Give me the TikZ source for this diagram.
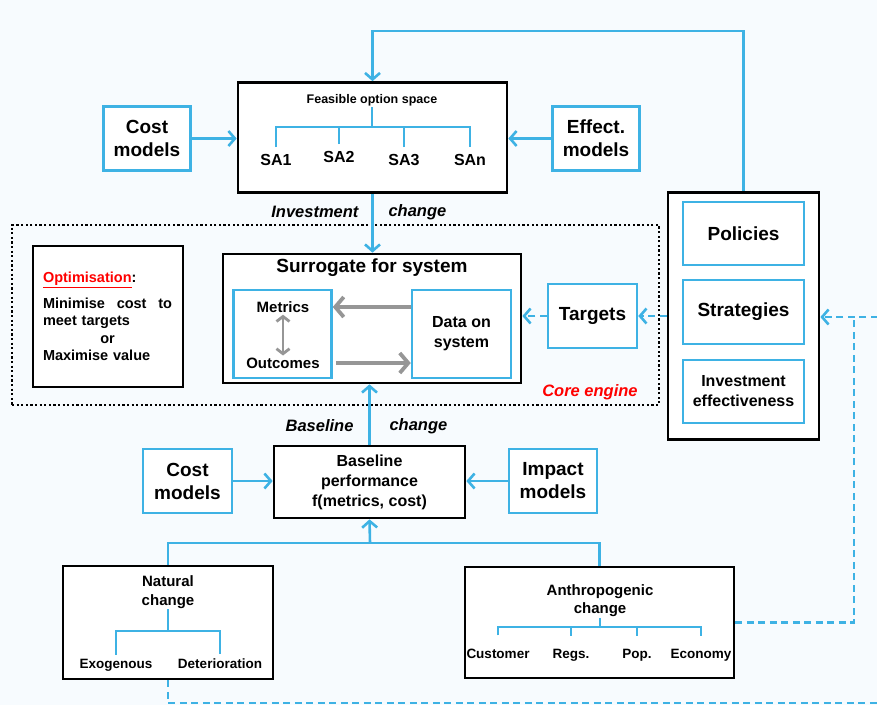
\documentclass[tikz,border=0pt]{standalone}
\usepackage{fontspec}
\setmainfont{Liberation Sans}
\usetikzlibrary{arrows, arrows.meta}

\definecolor{skyline}{RGB}{62,178,228}
\definecolor{paleblue}{RGB}{247,251,254}
\definecolor{greyline}{RGB}{150,150,150}

\begin{document}
\begin{tikzpicture}[x = 1pt, y = -1pt, >={Straight Barb[length = 6.5pt, width = 15pt]},
    frame/.style = {draw = black, line width = 2.7pt, fill = white, inner sep = 0pt, align = center},
    bluebox/.style = {draw = skyline, line width = 2.5pt, fill = white, inner sep = 0pt, align = center},
    flow/.style = {draw = skyline, line width = 2.6pt},
    dashflow/.style = {draw = skyline, line width = 2.6pt, dash pattern = on 7pt off 4.5pt},
    greyflow/.style = {draw = greyline, line width = 3.8pt, >={Straight Barb[length = 8.5pt, width = 20pt]}},
    bigtext/.style = {font = \fontsize{19}{23}\selectfont\bfseries},
    midtext/.style = {font = \fontsize{16}{20}\selectfont\bfseries},
    smalltext/.style = {font = \fontsize{14.5}{17.5}\selectfont\bfseries},
    headtext/.style = {font = \fontsize{15}{18.5}\selectfont\bfseries, align = center, inner sep = 1pt},
    leaftext/.style = {font = \fontsize{13.5}{16}\selectfont\bfseries},
    slanttext/.style = {font = \fontsize{16.5}{20}\selectfont\bfseries\itshape},
    leaf/.style = {anchor = base, inner xsep = 0pt, inner ysep = #1}]

  \useasboundingbox (0,0) rectangle (877,705);
  \clip (0,0) rectangle (877,705);
  \fill[paleblue] (0,0) rectangle (877,705);

  % feasible option space and its models
  \node[frame, minimum width = 269pt, minimum height = 110pt] (feas) at (372.5,137.5) {};
  \node[font = \fontsize{12.5}{15}\selectfont\bfseries, inner sep = 1pt] (fos) at (372,100) {Feasible option space};
  \node[font = \fontsize{16}{19}\selectfont\bfseries, leaf = 7pt] (sa1) at (276,165.5) {SA1};
  \node[font = \fontsize{16}{19}\selectfont\bfseries, leaf = 7pt] (sa2) at (339,162.5) {SA2};
  \node[font = \fontsize{16}{19}\selectfont\bfseries, leaf = 7pt] (sa3) at (404,165.5) {SA3};
  \node[font = \fontsize{16}{19}\selectfont\bfseries, leaf = 7pt] (san) at (470,165.5) {SAn};
  \coordinate (fosfork) at (372,127);
  \draw[flow] (fos.south) -- (fosfork);
  \draw[flow] (sa1.north) |- (fosfork) -| (san.north);
  \draw[flow] (sa2.north) -- (sa2.north |- fosfork);
  \draw[flow] (sa3.north) -- (sa3.north |- fosfork);

  \node[bluebox, bigtext, minimum width = 87pt, minimum height = 64pt] (costA) at (147,138.5) {Cost\\models};
  \node[bluebox, bigtext, minimum width = 87pt, minimum height = 64pt] (effect) at (596,138.5) {Effect.\\models};
  \draw[flow, ->] (costA.east) -- (costA.east -| feas.west);
  \draw[flow, ->] (effect.west) -- (effect.west -| feas.east);

  % core engine
  \node[draw, line width = 2.2pt, dash pattern = on 2.2pt off 2.4pt, minimum width = 647pt, minimum height = 180pt, inner sep = 0pt] (core) at (335.5,315) {};
  \node[font = \fontsize{16.5}{20}\selectfont\bfseries\itshape, text = red] (corelabel) at (590,392) {Core engine};

  \node[frame, minimum width = 150pt, minimum height = 141pt] (opt) at (108,316.5) {};
  \node[smalltext, text width = 129pt, align = left, inner sep = 0pt] (opttext) at (107.5,316.5)
    {\textcolor{red}{\underline{Optimisation}}:\\[8pt]
     Minimise\hfill cost\hfill to\\
     meet targets\\
     \makebox[129pt]{or}\\
     Maximise value};

  \node[frame, minimum width = 298pt, minimum height = 129pt] (sur) at (372,318.5) {};
  \node[bigtext, inner sep = 1pt] (surtitle) at (372,268) {Surrogate for system};
  \node[bluebox, minimum width = 98pt, minimum height = 88pt] (mo) at (282.5,334) {};
  \node[font = \fontsize{15}{18}\selectfont\bfseries, inner sep = 2pt] (metrics) at (283,307) {Metrics};
  \node[font = \fontsize{15}{18}\selectfont\bfseries, inner sep = 2pt] (outcomes) at (283,363) {Outcomes};
  \node[bluebox, midtext, minimum width = 99pt, minimum height = 88pt] (data) at (461.5,334) {Data on\\system};
  \draw[greyflow, ->] (data.west |- metrics) -- (mo.east |- metrics);
  \draw[greyflow, ->] ([xshift = 3pt]mo.east |- outcomes) -- (data.west |- outcomes);
  \draw[greyflow, line width = 2.8pt, >={Straight Barb[length = 5pt, width = 13pt]}, <->] (metrics.south) -- (outcomes.north);

  \node[slanttext, anchor = east] (invlabel) at (362,212) {Investment};
  \node[slanttext, anchor = west] (invchange) at (385,212) {change};
  \draw[flow, ->] (feas.south) -- (feas.south |- sur.north);

  % targets and policies
  \node[bluebox, bigtext, minimum width = 89pt, minimum height = 64pt] (tgt) at (592.5,316) {Targets};
  \node[frame, minimum width = 151pt, minimum height = 247pt] (pol) at (743.5,316) {};
  \node[bluebox, bigtext, minimum width = 121pt, minimum height = 63pt] (poli) at (743.5,233.5) {Policies};
  \node[bluebox, bigtext, minimum width = 121pt, minimum height = 64pt] (strat) at (743.5,312) {Strategies};
  \node[bluebox, midtext, minimum width = 121pt, minimum height = 63pt] (inveff) at (743.5,391.5) {Investment\\effectiveness};
  \draw[dashflow, ->] (tgt.west) -- (tgt.west -| sur.east);
  \draw[dashflow, ->] (pol.west |- tgt) -- (tgt.east);
  \draw[flow, ->] (pol.north) -- ++(0,-160) -| (feas.north);

  % baseline
  \node[frame, midtext, minimum width = 191pt, minimum height = 72pt] (base) at (369.5,482) {Baseline\\performance\\f(metrics, cost)};
  \node[bluebox, bigtext, minimum width = 89pt, minimum height = 64pt] (costB) at (187.5,481) {Cost\\models};
  \node[bluebox, bigtext, minimum width = 88pt, minimum height = 64pt] (impact) at (553,481) {Impact\\models};
  \draw[flow, ->] (costB.east) -- (costB.east -| base.west);
  \draw[flow, ->] (impact.west) -- (impact.west -| base.east);
  \node[slanttext, anchor = east] (baselabel) at (357,426) {Baseline};
  \node[slanttext, anchor = west] (basechange) at (386,426) {change};
  \draw[flow, ->] (base.north) -- (base.north |- sur.south);

  % natural and anthropogenic change
  \node[frame, minimum width = 210pt, minimum height = 113pt] (nat) at (168,622.5) {};
  \node[headtext] (nattitle) at (168,592) {Natural\\change};
  \node[leaftext, leaf = 4pt] (exo) at (116,668) {Exogenous};
  \node[leaftext, leaf = 4pt] (det) at (220,668) {Deterioration};
  \coordinate (natfork) at (168,631);
  \draw[flow] (nattitle.south) -- (natfork);
  \draw[flow] (exo.north) |- (natfork) -| (det.north);

  \node[frame, minimum width = 269pt, minimum height = 111pt] (anth) at (599.5,622.5) {};
  \node[headtext] (anthtitle) at (600,600.5) {Anthropogenic\\change};
  \node[leaftext, leaf = 13pt] (cust) at (498,658) {Customer};
  \node[leaftext, leaf = 13pt] (regs) at (571,658) {Regs.};
  \node[leaftext, leaf = 13pt] (pop) at (637,658) {Pop.};
  \node[leaftext, leaf = 13pt] (econ) at (701,658) {Economy};
  \coordinate (anthfork) at (600,627);
  \draw[flow] (anthtitle.south) -- (anthfork);
  \draw[flow] (cust.north) |- (anthfork) -| (econ.north);
  \draw[flow] (regs.north) -- (regs.north |- anthfork);
  \draw[flow] (pop.north) -- (pop.north |- anthfork);

  \coordinate (basefork) at (370,543);
  \draw[flow] (nat.north) |- (basefork) -| (anth.north);
  \draw[flow, ->] (basefork) -- (base.south);

  % feedback loop
  \coordinate (loopcorner) at (882,703);
  \coordinate (loopentry) at (882,317);
  \coordinate (anthjoin) at (854,317);
  \draw[dashflow, ->] (nat.south) |- (loopcorner) -- (loopentry) -- (loopentry -| pol.east);
  \draw[dashflow] (anth.east) -| (anthjoin);
\end{tikzpicture}
\end{document}
